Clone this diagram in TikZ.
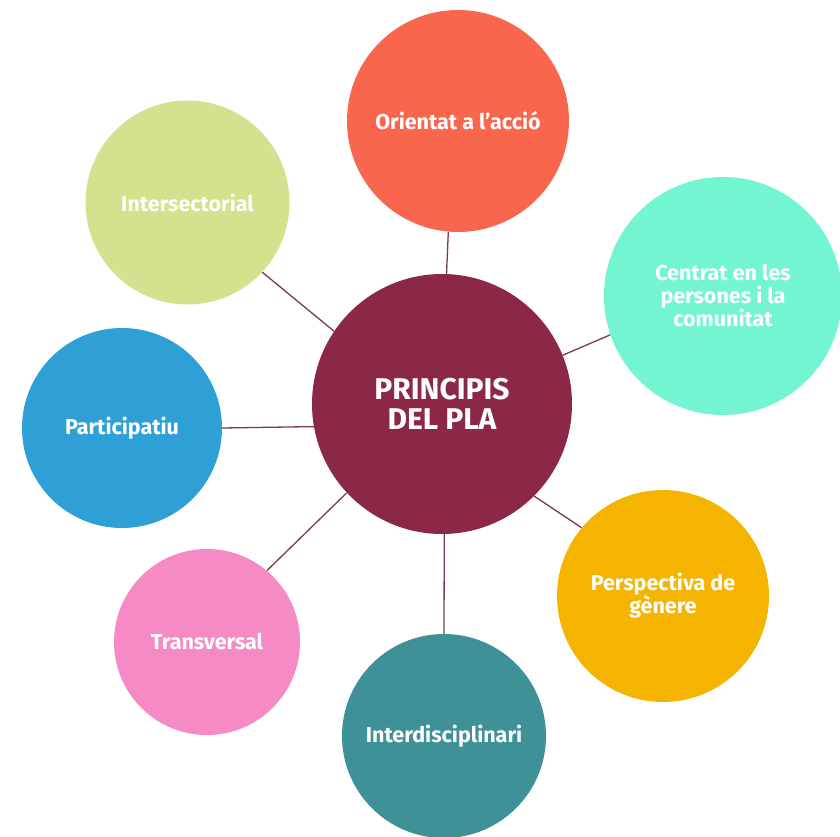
\documentclass[tikz,border=0pt]{standalone}
\usepackage{fontspec}
\setmainfont{Fira Sans}
\usetikzlibrary{backgrounds}
\definecolor{cmaroon}{HTML}{8B2846}
\definecolor{corange}{HTML}{F9664E}
\definecolor{cgreen}{HTML}{D2E28E}
\definecolor{caqua}{HTML}{74F5D2}
\definecolor{cblue}{HTML}{2FA0D6}
\definecolor{cyellow}{HTML}{F4B400}
\definecolor{cpink}{HTML}{F68AC4}
\definecolor{cteal}{HTML}{3D9197}
\definecolor{cline}{HTML}{7B3A4E}
\begin{document}
\begin{tikzpicture}[x=1pt,y=-1pt,
  bub/.style={circle, inner sep=0pt, minimum size=#1, text=white, align=center,
    font=\bfseries\fontsize{21.5}{23}\selectfont},
  link/.style={draw=cline, line width=1.3pt}]
\useasboundingbox (0,0) rectangle (840,837);
\node[bub=260pt, fill=cmaroon, font=\bfseries\fontsize{30}{29.5}\selectfont] (cen) at (442,404) {PRINCIPIS\\DEL PLA};
\node[bub=222pt, fill=corange] (ori) at (458,121) {Orientat a l’acció};
\node[bub=204pt, fill=cgreen] (int) at (187.5,202.5) {Intersectorial};
\node[bub=238pt, fill=caqua] (cpc) at (723,296) {Centrat en les\\persones i la\\comunitat};
\node[bub=200pt, fill=cblue] (par) at (122,428) {Participatiu};
\node[bub=212pt, fill=cyellow] (per) at (663,596) {Perspectiva de\\gènere};
\node[bub=186pt, fill=cpink] (tra) at (207,642) {Transversal};
\node[bub=204pt, fill=cteal] (itd) at (444,736) {Interdisciplinari};
\begin{scope}[on background layer]
\draw[link] (cen.88) -- (ori.-95);
\draw[link] (cen.146) -- (int.-43);
\draw[link] (cen.22) -- (cpc.199);
\draw[link] (cen.190.5) -- (par.0);
\draw[link] (cen.-45) -- (per.140);
\draw[link] (cen.223.8) -- (tra.50.6);
\draw[link] (cen.271) -- (itd.90);
\end{scope}
\end{tikzpicture}
\end{document}
